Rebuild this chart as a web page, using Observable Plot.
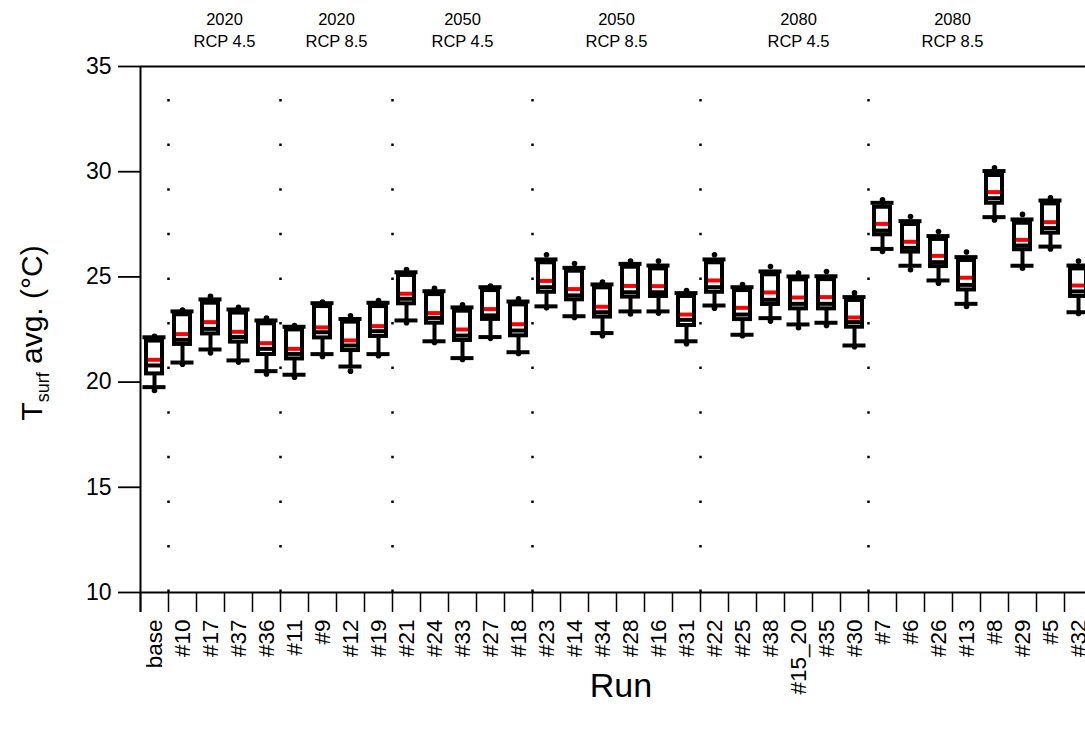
<!DOCTYPE html>
<html><head><meta charset="utf-8">
<script src="https://cdn.jsdelivr.net/npm/d3@7"></script>
<script src="https://cdn.jsdelivr.net/npm/@observablehq/plot@0.6"></script>
<style>
html,body{margin:0;padding:0;overflow:hidden;background:#fff;}
body{font-family:Arial,"Liberation Sans",sans-serif;}
</style>
</head><body><div id="chart"></div>
<script>
// ---- data ----
const runs = ["base","#10","#17","#37","#36","#11","#9","#12","#19","#21","#24","#33","#27","#18","#23","#14","#34","#28","#16","#31","#22","#25","#38","#15_20","#35","#30","#7","#6","#26","#13","#8","#29","#5","#32"];
const p95    = [22.18,23.43,24.08,23.56,23.05,22.69,23.80,23.15,23.88,25.35,24.46,23.67,24.56,23.96,26.05,25.64,24.75,25.75,25.75,24.35,26.05,24.64,25.49,25.18,25.26,24.24,28.66,27.87,27.16,26.18,30.18,27.97,28.76,25.75];
const p90    = [22.13,23.36,23.93,23.45,22.93,22.63,23.75,23.00,23.77,25.22,24.32,23.55,24.51,23.83,25.83,25.43,24.64,25.62,25.54,24.23,25.83,24.51,25.26,25.02,25.03,24.04,28.52,27.65,26.94,25.94,30.03,27.73,28.63,25.54];
const q3     = [21.95,23.20,23.75,23.28,22.77,22.48,23.59,22.85,23.59,25.07,24.16,23.37,24.35,23.67,25.67,25.27,24.48,25.46,25.38,24.07,25.67,24.35,25.10,24.86,24.87,23.88,28.31,27.49,26.78,25.78,29.82,27.55,28.47,25.38];
const mean   = [21.06,22.28,22.85,22.39,21.85,21.58,22.60,21.98,22.66,24.20,23.28,22.50,23.47,22.75,24.81,24.42,23.58,24.57,24.56,23.21,24.83,23.53,24.26,24.02,24.04,23.07,27.52,26.67,26.00,24.96,29.03,26.76,27.60,24.59];
const median = [20.79,22.01,22.53,22.14,21.58,21.34,22.37,21.74,22.42,23.96,23.05,22.21,23.17,22.45,24.51,24.12,23.32,24.27,24.27,22.96,24.51,23.21,23.91,23.72,23.72,22.85,27.20,26.38,25.70,24.62,28.74,26.49,27.32,24.31];
const q1     = [20.39,21.79,22.29,21.90,21.31,21.10,22.10,21.50,22.17,23.72,22.80,21.98,22.98,22.20,24.27,23.91,23.09,24.04,24.07,22.69,24.27,22.97,23.69,23.48,23.48,22.61,27.00,26.18,25.49,24.38,28.50,26.29,27.08,24.07];
const p10    = [19.76,20.93,21.55,21.03,20.52,20.35,21.33,20.74,21.33,22.93,21.94,21.14,22.14,21.42,23.60,23.13,22.33,23.36,23.36,21.94,23.64,22.25,23.04,22.74,22.82,21.74,26.33,25.53,24.83,23.72,27.84,25.53,26.44,23.32];
const p5     = [19.60,20.85,21.39,20.95,20.39,20.23,21.22,20.52,21.25,22.82,21.88,21.08,22.08,21.36,23.53,23.07,22.20,23.24,23.28,21.82,23.51,22.20,22.90,22.58,22.69,21.68,26.21,25.34,24.70,23.59,27.71,25.41,26.33,23.26];

const groupLabels     = ["2020\nRCP 4.5","2020\nRCP 8.5","2050\nRCP 4.5","2050\nRCP 8.5","2080\nRCP 4.5","2080\nRCP 8.5"];
const groupAnchorRun  = ["#17","#9","#33","#34","#15_20","#26"];
const groupOnBoundary = [true,true,false,true,false,true];
const separatorAfter  = ["base","#36","#19","#18","#31","#30"];
const yTicks = [10,15,20,25,30,35];
const yTitleMain = "T", yTitleSub = "surf", yTitleRest = " avg. (°C)";
const xTitle = "Run";

// ---- build ----
const data = runs.map((run,i)=>({run,p5:p5[i],p10:p10[i],q1:q1[i],median:median[i],mean:mean[i],q3:q3[i],p90:p90[i],p95:p95[i]}));
const groups = groupLabels.map((label,i)=>({label, run:groupAnchorRun[i], boundary:groupOnBoundary[i]}));

const W=1085, H=729, mL=140, mT=66, mB=137, step=28;
const innerH = H - mT - mB;
const font = "Arial, 'Liberation Sans', sans-serif";

const plot = Plot.plot({
  width:W, height:H, marginLeft:mL, marginTop:mT, marginBottom:mB, marginRight:0,
  x:{type:"band", domain:runs, range:[mL, mL+step*runs.length], padding:0},
  y:{domain:[10,35], range:[H-mB, mT]},
  style:{fontFamily:font, background:"white", color:"black", overflow:"hidden"},
  marks:[
    // dotted group separators
    Plot.ruleX(separatorAfter, {x:d=>d, dx:step/2, stroke:"black", strokeWidth:2.5, strokeDasharray:"2.5 42.1", strokeDashoffset:11.6}),
    // frame lines
    Plot.ruleY([35], {stroke:"black", strokeWidth:2}),
    Plot.ruleY([10], {stroke:"black", strokeWidth:2}),
    Plot.ruleX([runs[0]], {x:d=>d, dx:-step/2, insetBottom:-20, stroke:"black", strokeWidth:2}),
    // x ticks at band boundaries
    Plot.ruleX(runs, {x:d=>d, dx:-step/2, insetTop:innerH, insetBottom:-20, stroke:"black", strokeWidth:1.5}),
    Plot.axisY({ticks:yTicks, tickSize:22, tickPadding:7, fontSize:23, strokeWidth:1.8, label:null}),
    Plot.axisX({tickSize:0, tickPadding:27, tickRotate:-90, fontSize:22.5, label:null}),
    // whiskers
    Plot.ruleX(data, {x:"run", y1:"p10", y2:"p90", stroke:"black", strokeWidth:4}),
    Plot.tickY(data, {x:"run", y:"p90", stroke:"black", strokeWidth:4, insetLeft:2.5, insetRight:2.5}),
    Plot.tickY(data, {x:"run", y:"p10", stroke:"black", strokeWidth:4, insetLeft:2.5, insetRight:2.5}),
    Plot.dot(data, {x:"run", y:"p95", r:2.8, fill:"black", stroke:null}),
    Plot.dot(data, {x:"run", y:"p5", r:2.8, fill:"black", stroke:null}),
    // boxes
    Plot.rectY(data, {x:"run", y1:"q1", y2:"q3", fill:"white", stroke:"black", strokeWidth:4, insetLeft:6, insetRight:6}),
    Plot.tickY(data, {x:"run", y:"median", stroke:"black", strokeWidth:4, insetLeft:7, insetRight:7}),
    Plot.tickY(data, {x:"run", y:"mean", stroke:"red", strokeWidth:4, insetLeft:8, insetRight:8}),
    // group labels
    Plot.text(groups.filter(d=>d.boundary), {x:"run", text:"label", frameAnchor:"top", lineAnchor:"middle", dx:step/2, dy:-38, fontSize:16.5, lineHeight:1.35, fill:"black"}),
    Plot.text(groups.filter(d=>!d.boundary), {x:"run", text:"label", frameAnchor:"top", lineAnchor:"middle", dy:-38, fontSize:16.5, lineHeight:1.35, fill:"black"}),
    // x title
    Plot.text([xTitle], {frameAnchor:"bottom", lineAnchor:"middle", dx:8, dy:94, fontSize:34, fill:"black"})
  ]
});

const svg = d3.select(plot);
const t = svg.append("text")
  .attr("transform", `translate(42,${mT + innerH/2 + 4}) rotate(-90)`)
  .attr("text-anchor","middle")
  .attr("font-family", font)
  .attr("font-size", 30)
  .attr("fill","black");
t.append("tspan").text(yTitleMain);
t.append("tspan").attr("font-size",18).attr("dy",7).text(yTitleSub);
t.append("tspan").attr("dy",-7).text(yTitleRest);

document.getElementById("chart").appendChild(plot);
</script>
</body></html>
